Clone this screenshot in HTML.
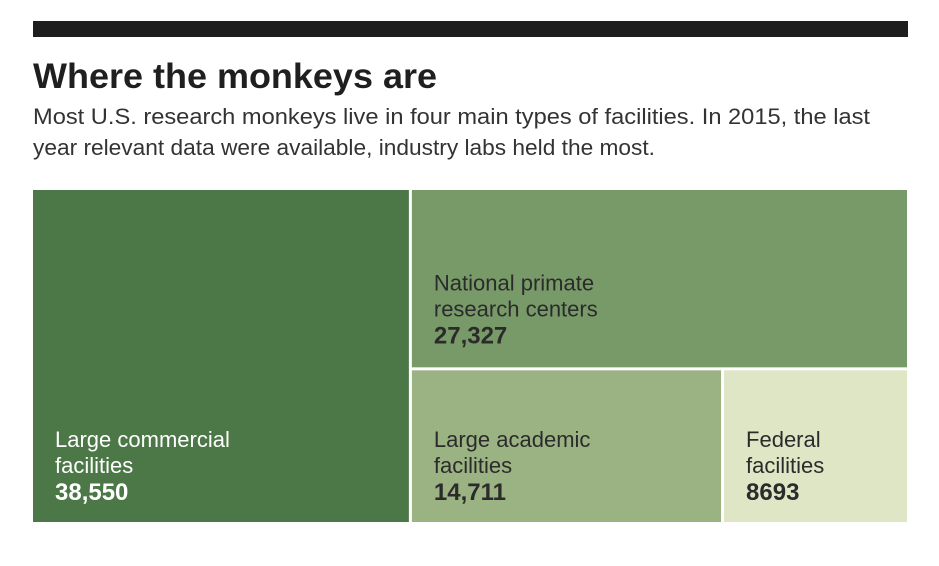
<!DOCTYPE html>
<html><head><meta charset="utf-8"><style>
html,body{margin:0;padding:0;background:#fff;}
svg{display:block;font-family:"Liberation Sans",sans-serif;}
</style></head><body>
<svg id="chart" width="939" height="566">
<rect x="33" y="21" width="875" height="16" fill="#1e1e1e"/>
<text x="33" y="88" font-size="35" font-weight="bold" fill="#1f1f1f" textLength="404" lengthAdjust="spacingAndGlyphs">Where the monkeys are</text>
<text x="33" y="124" font-size="22" fill="#333" textLength="837" lengthAdjust="spacingAndGlyphs">Most U.S. research monkeys live in four main types of facilities. In 2015, the last</text>
<text x="33" y="155" font-size="22" fill="#333" textLength="622" lengthAdjust="spacingAndGlyphs">year relevant data were available, industry labs held the most.</text>
<g id="tiles"></g>
</svg>
<script>
const categories = ["Large commercial facilities","National primate research centers","Large academic facilities","Federal facilities"];
const labelLine1 = ["Large commercial","National primate","Large academic","Federal"];
const labelLine2 = ["facilities","research centers","facilities","facilities"];
const values = [38550, 27327, 14711, 8693];
const valueLabels = ["38,550","27,327","14,711","8693"];
const colors = ["#4b7846","#789a68","#9bb383","#dfe6c6"];

const X0=33, X1=907, Y0=190, Y1=522, GAP=3;
const g=document.getElementById('tiles');
const NS='http://www.w3.org/2000/svg';
const total=values.reduce((a,b)=>a+b,0);
const xs=v=>v/total*(X1-X0);
const wL=xs(values[0]);
const rest=values[1]+values[2]+values[3];
const hTop=values[1]/rest*(Y1-Y0);
const wAcad=values[2]/(values[2]+values[3])*(X1-X0-wL);
const rects=[
 [X0,Y0,wL-GAP/2,Y1-Y0],
 [X0+wL+GAP/2,Y0,X1-X0-wL-GAP/2,hTop-GAP/2],
 [X0+wL+GAP/2,Y0+hTop+GAP/2,wAcad-GAP,Y1-Y0-hTop-GAP/2],
 [X0+wL+wAcad+GAP/2,Y0+hTop+GAP/2,X1-X0-wL-wAcad-GAP/2,Y1-Y0-hTop-GAP/2]
];
const names=['commercial','national-primate','academic','federal'];
rects.forEach((r,i)=>{
 const rc=document.createElementNS(NS,'rect');
 rc.setAttribute('x',r[0]);rc.setAttribute('y',r[1]);rc.setAttribute('width',r[2]);rc.setAttribute('height',r[3]);
 rc.setAttribute('fill',colors[i]);
 
 
 g.appendChild(rc);
 const tx=r[0]+22;
 const by=(i===1)?r[1]+r[3]-24:r[1]+r[3]-22;
 const lines=[[labelLine1[i],by-53,false],[labelLine2[i],by-27,false],[valueLabels[i],by,true]];
 lines.forEach((l,j)=>{
  const t=document.createElementNS(NS,'text');
  t.setAttribute('x',tx);t.setAttribute('y',l[1]);
  t.setAttribute('font-size',l[2]?'24':'22');
  if(l[2]){t.setAttribute('font-weight','bold');}
  t.setAttribute('fill',i===0?'#ffffff':'#2b2b2b');
  t.textContent=l[0];
  
  
  g.appendChild(t);
 });
});
</script>
</body></html>
